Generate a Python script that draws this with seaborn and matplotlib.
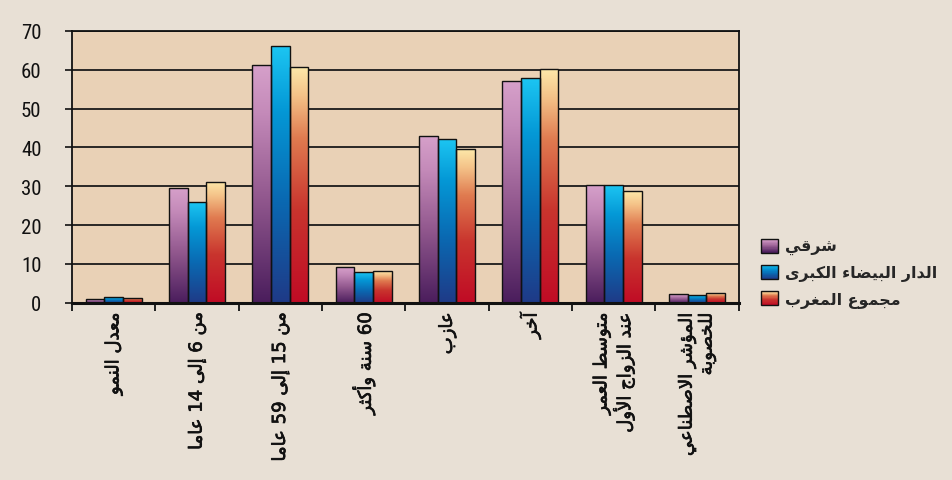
import numpy as np
import pandas as pd
import matplotlib
matplotlib.use("Agg")
import matplotlib.pyplot as plt
import seaborn as sns
from matplotlib.colors import LinearSegmentedColormap, to_hex
from matplotlib.patches import Rectangle
from matplotlib.legend_handler import HandlerBase
from matplotlib import font_manager as fm
import matplotlib.patheffects as pe

# ---------------- data ----------------
categories = ["معدل النمو", "من 6 إلى 14 عاما", "من 15 إلى 59 عاما", "60 سنة وأكثر",
              "عازب", "آخر", "متوسط العمر\nعند الزواج الأول", "المؤشر الاصطناعي\nللخصوبة"]
series = ["شرقي", "الدار البيضاء الكبرى", "مجموع المغرب"]
sharqi = [0.9, 29.5, 61.3, 9.1, 43.0, 57.1, 30.3, 2.2]
casablanca = [1.5, 25.9, 66.2, 7.8, 42.2, 57.8, 30.2, 1.9]
morocco = [1.3, 31.2, 60.7, 8.1, 39.6, 60.2, 28.7, 2.5]
yticks = [0, 10, 20, 30, 40, 50, 60, 70]

# ---------------- Arabic shaping (no external libs) ----------------
RJ = {'آ': 0xFE81, 'أ': 0xFE83, 'ؤ': 0xFE85, 'إ': 0xFE87, 'ا': 0xFE8D, 'ة': 0xFE93,
      'د': 0xFEA9, 'ذ': 0xFEAB, 'ر': 0xFEAD, 'ز': 0xFEAF, 'و': 0xFEED, 'ى': 0xFEEF}
DJ = {'ئ': 0xFE89, 'ب': 0xFE8F, 'ت': 0xFE95, 'ث': 0xFE99, 'ج': 0xFE9D, 'ح': 0xFEA1,
      'خ': 0xFEA5, 'س': 0xFEB1, 'ش': 0xFEB5, 'ص': 0xFEB9, 'ض': 0xFEBD, 'ط': 0xFEC1,
      'ظ': 0xFEC5, 'ع': 0xFEC9, 'غ': 0xFECD, 'ف': 0xFED1, 'ق': 0xFED5, 'ك': 0xFED9,
      'ل': 0xFEDD, 'م': 0xFEE1, 'ن': 0xFEE5, 'ه': 0xFEE9, 'ي': 0xFEF1}
NJ = {'ء': 0xFE80}
LAM_ALEF = {'آ': 0xFEF5, 'أ': 0xFEF7, 'إ': 0xFEF9, 'ا': 0xFEFB}


def _jt(u):
    if u[0] == 'LA':
        return 'R'
    c = u[1]
    if c in DJ:
        return 'D'
    if c in RJ:
        return 'R'
    if c in NJ:
        return 'U'
    return 'X'


def shape_word(w):
    units = []
    i = 0
    while i < len(w):
        c = w[i]
        if c == 'ل' and i + 1 < len(w) and w[i + 1] in LAM_ALEF:
            units.append(('LA', LAM_ALEF[w[i + 1]]))
            i += 2
        else:
            units.append(('C', c))
            i += 1
    out = []
    for k, u in enumerate(units):
        t = _jt(u)
        prev = units[k - 1] if k > 0 else None
        nxt = units[k + 1] if k + 1 < len(units) else None
        cp = prev is not None and _jt(prev) == 'D' and t in ('D', 'R')
        cn = nxt is not None and t == 'D' and _jt(nxt) in ('D', 'R')
        if u[0] == 'LA':
            out.append(chr(u[1] + (1 if cp else 0)))
            continue
        c = u[1]
        if t == 'D':
            off = 3 if (cp and cn) else 1 if cp else 2 if cn else 0
            out.append(chr(DJ[c] + off))
        elif t == 'R':
            out.append(chr(RJ[c] + (1 if cp else 0)))
        elif t == 'U':
            out.append(chr(NJ[c]))
        else:
            out.append(c)
    return ''.join(out)


def _visual_line(line):
    toks = line.split(' ')
    vis = []
    for t in reversed(toks):
        if any('\u0600' <= ch <= '\u06FF' for ch in t):
            vis.append(shape_word(t)[::-1])
        else:
            vis.append(t)
    return ' '.join(vis)


def ar(text):
    return '\n'.join(_visual_line(l) for l in text.split('\n'))


# ---------------- style ----------------
sns.set_style("ticks")
plt.rcParams['font.family'] = ['DejaVu Sans']

installed = {f.name for f in fm.fontManager.ttflist}
narrow = None
for cand in ['Liberation Sans Narrow', 'DejaVu Sans Condensed', 'Roboto Condensed', 'Open Sans Condensed']:
    if cand in installed:
        narrow = cand
        break
num_font = fm.FontProperties(family=[narrow] if narrow else ['DejaVu Sans'],
                             stretch='condensed', size=15)

BG = '#e8e0d5'
AX_BG = '#e9d1b6'

palette = {series[0]: '#a0689e', series[1]: '#0a7cc0', series[2]: '#d9604a'}
cmaps = {
    series[0]: LinearSegmentedColormap.from_list(
        'p', [(0, '#4a1d5c'), (0.45, '#93598f'), (0.8, '#c48ab9'), (1, '#d6a0ca')]),
    series[1]: LinearSegmentedColormap.from_list(
        'b', [(0, '#1f3a87'), (0.4, '#0a69b2'), (0.75, '#0498d6'), (1, '#1cc5f2')]),
    series[2]: LinearSegmentedColormap.from_list(
        'o', [(0, '#c00b25'), (0.4, '#c9352e'), (0.7, '#e07b50'), (0.88, '#f4c288'), (1, '#fde8a9')]),
}

df = pd.DataFrame({
    'cat': categories * 3,
    'series': [series[0]] * 8 + [series[1]] * 8 + [series[2]] * 8,
    'value': sharqi + casablanca + morocco,
})

fig = plt.figure(figsize=(9.52, 4.81), dpi=100, facecolor=BG)
ax = fig.add_axes([0.0756, 0.3686, 0.7003, 0.5649])
ax.set_facecolor(AX_BG)

sns.barplot(data=df, x='cat', y='value', hue='series', order=categories, hue_order=series,
            palette=palette, saturation=1, width=0.675, edgecolor='#111111', linewidth=1.0,
            legend=False, ax=ax)

hex2series = {to_hex(v): k for k, v in palette.items()}
grad = np.linspace(0, 1, 256).reshape(-1, 1)
for p in list(ax.patches):
    key = hex2series.get(to_hex(p.get_facecolor()))
    if key is None:
        continue
    x0, w, h = p.get_x(), p.get_width(), p.get_height()
    im = ax.imshow(grad, extent=[x0, x0 + w, 0, h], origin='lower', aspect='auto',
                   cmap=cmaps[key], zorder=2.5, interpolation='bilinear')
    im.set_clip_path(p)
    p.set_facecolor('none')
    p.set_zorder(3)

ax.set_xlim(-0.5, len(categories) - 0.5)
ax.set_ylim(0, 70)
ax.set_yticks(yticks)
ax.set_axisbelow(True)
ax.yaxis.grid(True, color='#1a1a1a', linewidth=1.3)
ax.xaxis.grid(False)

for s in ax.spines.values():
    s.set_color('#111111')
    s.set_linewidth(1.3)
ax.spines['bottom'].set_linewidth(2.2)

ax.tick_params(axis='y', direction='out', length=5, width=1.2, pad=17, colors='#111111')
for lab in ax.get_yticklabels():
    lab.set_fontproperties(num_font)

ax.set_xticks(range(len(categories)))
ax.set_xticklabels([ar(c) for c in categories], rotation=90, va='top', ha='center',
                   multialignment='right', fontsize=13, linespacing=1.1,
                   family=['DejaVu Sans'])
for lab in ax.get_xticklabels():
    lab.set_path_effects([pe.withStroke(linewidth=0.5, foreground='#111111')])
ax.tick_params(axis='x', which='major', length=0, pad=7, colors='#111111')
ax.set_xticks(np.arange(-0.5, len(categories), 1.0), minor=True)
ax.tick_params(axis='x', which='minor', direction='out', length=6, width=1.3, color='#111111')
ax.set_xlabel('')
ax.set_ylabel('')


class GradHandler(HandlerBase):
    def __init__(self, cmap):
        super().__init__()
        self.cmap = cmap

    def create_artists(self, legend, orig_handle, xdescent, ydescent, width, height, fontsize, trans):
        n = 24
        arts = []
        for i in range(n):
            arts.append(Rectangle((-xdescent, -ydescent + height * i / n), width, height / n * 1.05,
                                  facecolor=self.cmap((i + 0.5) / n), edgecolor='none',
                                  transform=trans))
        arts.append(Rectangle((-xdescent, -ydescent), width, height, facecolor='none',
                              edgecolor='#111111', linewidth=1.0, transform=trans))
        return arts


handles = [Rectangle((0, 0), 1, 1) for _ in series]
hmap = {h: GradHandler(cmaps[s]) for h, s in zip(handles, series)}
fig.legend(handles, [ar(s) for s in series], handler_map=hmap, loc='upper left',
           bbox_to_anchor=(753 / 952, 1 - 232 / 481), bbox_transform=fig.transFigure,
           frameon=False, borderpad=0, handlelength=1.1, handleheight=0.95,
           handletextpad=0.45, labelspacing=0.62,
           prop={'family': ['DejaVu Sans'], 'weight': 'bold', 'size': 11.4})

fig.savefig('out.png', dpi=100, facecolor=BG)
